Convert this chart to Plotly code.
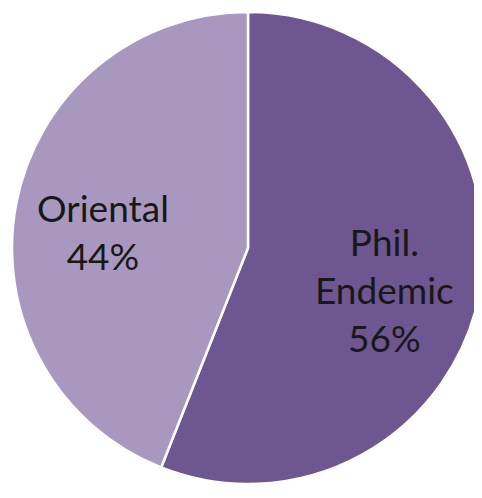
import plotly.graph_objects as go

labels = ["Phil.<br>Endemic", "Oriental"]
values = [56, 44]
colors = ["#6E5690", "#A898C0"]
label_pos = {"Phil.<br>Endemic": (0.79, 0.412), "Oriental": (0.193, 0.534)}

fig = go.Figure(go.Pie(
    labels=labels,
    values=values,
    sort=False,
    direction="clockwise",
    rotation=0,
    marker=dict(colors=colors, line=dict(color="white", width=2.5)),
    textinfo="none",
    hoverinfo="label+percent",
    showlegend=False,
))
for lab, val in zip(labels, values):
    x, y = label_pos[lab]
    fig.add_annotation(
        x=x, y=y, xref="paper", yref="paper",
        text=f"{lab}<br>{val}%", showarrow=False,
        font=dict(family="Lato", size=37, color="#181818"),
        align="center", xanchor="center", yanchor="middle",
    )
fig.update_layout(
    width=482, height=498,
    margin=dict(l=4, r=6, t=3, b=21),
    paper_bgcolor="white",
)
fig.write_html("out.html")
